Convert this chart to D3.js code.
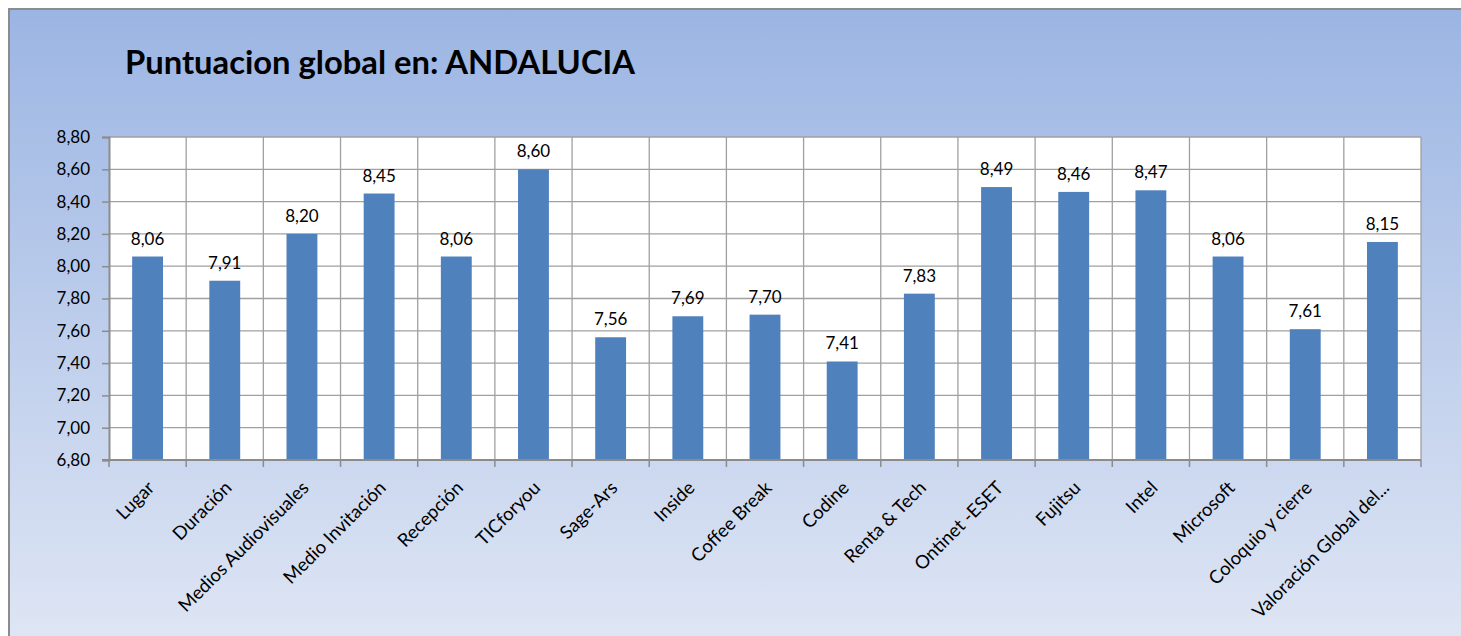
<!DOCTYPE html>
<html>
<head>
<meta charset="utf-8">
<script src="https://cdn.jsdelivr.net/npm/d3@7"></script>
<style>
body { margin: 0; background: #fff; }
text { font-family: Lato, "Open Sans", sans-serif; fill: #000; }
</style>
</head>
<body>
<div id="chart"></div>
<script>
const WIDTH = 1461, HEIGHT = 636;

const categories = ["Lugar", "Duración", "Medios Audiovisuales", "Medio Invitación", "Recepción", "TICforyou",
  "Sage-Ars", "Inside", "Coffee Break", "Codine", "Renta & Tech", "Ontinet -ESET", "Fujitsu", "Intel",
  "Microsoft", "Coloquio y cierre", "Valoración Global del..."];
const values = [8.06, 7.91, 8.20, 8.45, 8.06, 8.60, 7.56, 7.69, 7.70, 7.41, 7.83, 8.49, 8.46, 8.47, 8.06, 7.61, 8.15];
const yTicks = [6.8, 7.0, 7.2, 7.4, 7.6, 7.8, 8.0, 8.2, 8.4, 8.6, 8.8];

var LEFT = 109, RIGHT = 1421, TOP = 137, BOTTOM = 460;
const fmt = d => d3.format(".2f")(d).replace(".", ",");

const svg = d3.select("#chart").append("svg").attr("width", WIDTH).attr("height", HEIGHT)

// background gradient
const grad = svg.append("defs").append("linearGradient").attr("id", "bg").attr("x1", 0).attr("y1", 0).attr("x2", 0).attr("y2", 1)
grad.append("stop").attr("offset", "0%").attr("stop-color", "#9bb5e3")
grad.append("stop").attr("offset", "100%").attr("stop-color", "#dfe6f4")
svg.append("rect").attr("x", 9).attr("y", 9).attr("width", WIDTH).attr("height", HEIGHT)
  .attr("fill", "url(#bg)").attr("stroke", "#8c8c8c").attr("stroke-width", 2)

svg.append("text").attr("x", 125).attr("y", 74).attr("font-size", 32).attr("font-weight", "bold")
  .attr("textLength", 510).attr("lengthAdjust", "spacingAndGlyphs")
  .text("Puntuacion global en: ANDALUCIA")

// scales
const x = d3.scaleBand().domain(categories).range([LEFT, RIGHT]).paddingInner(0.6).paddingOuter(0.3)
const xb = d3.scaleBand().domain(categories).range([LEFT, RIGHT])
const y = d3.scaleLinear().domain([6.8, 8.8]).range([BOTTOM, TOP])

svg.append("rect").attr("x", LEFT).attr("y", TOP).attr("width", RIGHT - LEFT).attr("height", BOTTOM - TOP).attr("fill", "#fff")

// grid
svg.append("g").selectAll("line").data(yTicks.slice(1)).enter().append("line")
  .attr("x1", LEFT).attr("x2", RIGHT).attr("y1", d => y(d)).attr("y2", d => y(d))
  .attr("stroke", "#a0a0a0").attr("stroke-width", 1.3)
svg.append("g").selectAll("line").data(categories).enter().append("line")
  .attr("x1", d => xb(d) + xb.bandwidth()).attr("x2", d => xb(d) + xb.bandwidth())
  .attr("y1", TOP).attr("y2", BOTTOM).attr("stroke", "#a0a0a0").attr("stroke-width", 1.3)

// bars
svg.append("g").selectAll("rect").data(values).enter().append("rect")
  .attr("x", (d, i) => x(categories[i])).attr("width", x.bandwidth())
  .attr("y", d => y(d)).attr("height", d => BOTTOM - y(d)).attr("fill", "#4f81bd")

svg.append("g").selectAll("text").data(values).enter().append("text")
  .attr("x", (d, i) => x(categories[i]) + x.bandwidth() / 2).attr("y", d => y(d) - 12)
  .attr("text-anchor", "middle").attr("font-size", 17).text(d => fmt(d))

// y axis
const gen_y = d3.axisLeft(y).tickValues(yTicks).tickFormat(fmt).tickSize(7).tickPadding(12)
const gy = svg.append("g").attr("transform", "translate(" + LEFT + ",0)").call(gen_y)
gy.select(".domain").attr("stroke", "#8c8c8c").attr("stroke-width", 2)
gy.selectAll(".tick line").attr("stroke", "#8c8c8c").attr("stroke-width", 1.5)
gy.selectAll("text").attr("font-size", 17).attr("font-family", "Lato").attr("fill", "#000")

// x axis
const gx = svg.append("g").attr("transform", "translate(0," + BOTTOM + ")")
gx.append("line").attr("x1", LEFT - 7).attr("x2", RIGHT).attr("stroke", "#8c8c8c").attr("stroke-width", 2)
gx.selectAll(".tk").data([LEFT].concat(categories.map(c => xb(c) + xb.bandwidth()))).enter().append("line")
  .attr("x1", d => d).attr("x2", d => d).attr("y1", 0).attr("y2", 7).attr("stroke", "#8c8c8c").attr("stroke-width", 1.5)
gx.selectAll("text").data(categories).enter().append("text")
  .attr("transform", d => "translate(" + (xb(d) + xb.bandwidth() / 2 + 8) + ",29) rotate(-45)")
  .attr("text-anchor", "end").attr("font-size", 18.5).text(d => d)
</script>
</body>
</html>
